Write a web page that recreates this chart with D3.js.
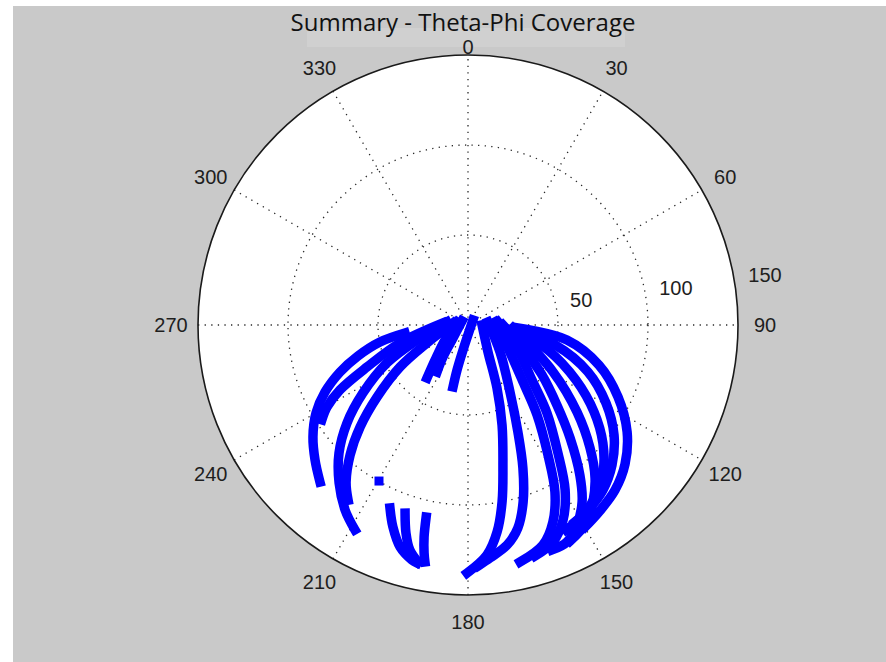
<!DOCTYPE html>
<meta charset="utf-8">
<style>

body {
  margin: 0;
  background-color: #fff;
}

svg {
  display: block;
}

.grid {
  fill: none;
  stroke: #2a2a2a;
  stroke-width: 1.3;
  stroke-dasharray: 1.3,5.3;
}

.rim {
  fill: #fff;
  stroke: #1a1a1a;
  stroke-width: 1.6;
}

.track {
  fill: none;
  stroke: #0000ff;
  stroke-width: 9.5;
  stroke-linejoin: round;
  stroke-linecap: square;
}

.label {
  font-family: "Liberation Sans", Arial, sans-serif;
  font-size: 20px;
  fill: #1e1e1e;
}

.title {
  font-family: "Open Sans", sans-serif;
  font-size: 24px;
  fill: #111;
}

</style>
<body>
<svg width="886" height="662"></svg>
<script src="https://cdnjs.cloudflare.com/ajax/libs/d3/7.8.5/d3.min.js"></script>
<script>

// angle ticks (phi, degrees clockwise from top) and radius ticks (theta)
var angleTicks = [0, 30, 60, 90, 120, 150, 180, 210, 240, 270, 300, 330];
var radiusTicks = [50, 100, 150];

// each track: [phi, theta] pairs
var trackA = [[90, 7.8], [143.5, 18.7], [155.3, 38.5], [161.2, 58.7], [166, 80.2], [169.1, 100.1], [172, 116.1], [175.3, 128.2], [180.2, 137.8]];
var trackB = [[81.5, 11.2], [130.2, 23.3], [147.9, 43.9], [155, 65.6], [159, 85.1], [162.7, 103], [166.2, 116.1], [169.9, 124.1], [174.6, 130], [177.6, 134]];
var trackC = [[83.7, 15.1], [119.9, 25.6], [136, 44], [142.5, 63], [148.4, 84.8], [152.5, 104.6], [156.7, 119.2], [161.2, 129.1], [167.6, 134.8]];
var trackC2 = [[84.3, 16.8], [113.6, 29.1], [130.7, 46.9], [138.1, 65.7], [144.9, 86.9], [149.5, 106.3], [154, 120.5], [158.6, 129.5], [163.8, 133.6]];
var trackD = [[90, 19.4], [112.7, 33.1], [124, 49.6], [132, 66.5], [137.9, 84.6], [143.3, 104], [147.2, 117], [151.4, 126.5], [155.5, 132.5], [159.5, 133.4]];
var trackE = [[93.8, 25], [118.9, 54], [128.6, 77.5], [135.2, 96.2], [140.3, 110.5], [144.8, 120.4], [148.9, 127.9], [154.7, 132.7]];
var trackF1 = [[93.4, 27.8], [98.6, 55.6], [107, 76.1], [115.6, 92.4], [123.9, 106.5], [131.5, 116.5], [138.3, 122.8], [145, 126.8], [149.9, 129.7]];
var trackF2 = [[96, 26.3], [102.9, 49.6], [111.4, 71.6], [119.5, 88.1], [127, 101.6], [134.2, 111.6], [140.7, 118.4], [147, 122.5], [151.5, 124.5]];
var trackF3 = [[95, 25.6], [107.4, 46.6], [117, 67.3], [124.6, 85.1], [131.2, 99.6], [137.4, 110.9], [143, 118.2], [148.8, 123.4], [154.4, 126.2]];

var trackL1 = [[262.8, 35.3], [259.1, 49.8], [254.3, 63.5], [249.8, 75.8], [244.9, 87.7], [239.9, 97.6], [234.2, 106.2], [228.6, 113.3], [223.3, 119.9]];
var trackL2 = [[274.6, 13.9], [255.2, 39.1], [247.4, 60.8], [243.1, 79.8], [239.8, 90.6], [237, 96.8]];
var trackL3 = [[278.1, 11.8], [253.6, 29.5], [244.9, 49.7], [237.1, 69.5], [231, 86.5], [225.2, 101], [219.2, 113.3], [213.6, 123.4], [208.9, 130]];
var trackL4 = [[277.6, 8.4], [246.3, 24.9], [238.3, 44.4], [231.6, 64.5], [226.6, 82.5], [222.2, 97.5], [217.8, 110.5], [214.4, 117.9]];
var trackS1 = [[285.3, 6.3], [236.9, 15.3], [223.3, 26.7], [217.7, 37.2]];
var trackS2 = [[45, 3.9], [191.3, 14.2], [193.7, 25.7], [193.6, 35.4]];
var trackS3 = [[303.7, 4], [226.8, 12.2], [218, 22.6], [213.4, 31.3]];
var trackH1 = [[203.1, 110.5], [200.4, 119.7], [197, 129], [193.4, 134.2], [192.1, 135.2]];
var trackH2 = [[198.5, 110.2], [196.6, 120.6], [194.5, 129.1], [191.9, 134.6]];
var trackH3 = [[192.3, 109.2], [191.7, 120.3], [190.9, 129], [190.3, 133.8]];
var strayPoints = [[209.7, 99.8]];

var tracks = [trackA, trackB, trackC, trackC2, trackD, trackE, trackF1, trackF2, trackF3,
              trackL1, trackL2, trackL3, trackL4, trackS1, trackS2, trackS3,
              trackH1, trackH2, trackH3];

var svg = d3.select("svg"),
    cx = 468, cy = 325, R = 270;

var r = d3.scaleLinear().domain([0, 150]).range([0, R]);
var rad = function(a) { return a * Math.PI / 180; };

// figure background
svg.append("rect")
    .attr("x", 13).attr("y", 6)
    .attr("width", 886 - 13).attr("height", 662 - 6)
    .attr("fill", "#c9c9c9");

svg.append("rect")
    .attr("x", 307).attr("y", 28)
    .attr("width", 318).attr("height", 19)
    .attr("fill", "#d0d0d0");

svg.append("text")
    .attr("class", "title")
    .attr("x", 463).attr("y", 31)
    .attr("text-anchor", "middle")
    .text("Summary - Theta-Phi Coverage");

var g = svg.append("g").attr("transform", "translate(" + cx + "," + cy + ")");

g.append("circle").attr("class", "rim").attr("r", R).style("stroke", "none");

// spokes
g.selectAll(".spoke")
    .data(angleTicks.filter(function(a) { return a < 180; }))
  .enter().append("line")
    .attr("class", "grid")
    .attr("x1", function(a) { return -R * Math.sin(rad(a)); })
    .attr("y1", function(a) { return R * Math.cos(rad(a)); })
    .attr("x2", function(a) { return R * Math.sin(rad(a)); })
    .attr("y2", function(a) { return -R * Math.cos(rad(a)); });

// rings
g.selectAll(".ring")
    .data(radiusTicks.slice(0, -1))
  .enter().append("circle")
    .attr("class", "grid")
    .attr("r", function(d) { return r(d); });

g.append("circle").attr("class", "rim").attr("r", R).style("fill", "none");

// tracks
var line = d3.lineRadial()
    .angle(function(d) { return rad(d[0]); })
    .radius(function(d) { return r(d[1]); })
    .curve(d3.curveCatmullRom);

g.selectAll(".track")
    .data(tracks)
  .enter().append("path")
    .attr("class", "track")
    .attr("d", line);

g.selectAll(".stray")
    .data(strayPoints)
  .enter().append("rect")
    .attr("x", function(d) { return r(d[1]) * Math.sin(rad(d[0])) - 4.5; })
    .attr("y", function(d) { return -r(d[1]) * Math.cos(rad(d[0])) - 4.5; })
    .attr("width", 9).attr("height", 9)
    .attr("fill", "#0000ff");

// angle labels
g.selectAll(".alabel")
    .data(angleTicks)
  .enter().append("text")
    .attr("class", "label")
    .attr("text-anchor", "middle")
    .attr("dy", "0.35em")
    .attr("x", function(a) { return (a === 0 ? R * 1.03 : R * 1.1) * Math.sin(rad(a)); })
    .attr("y", function(a) { return -(a === 0 ? R * 1.03 : R * 1.1) * Math.cos(rad(a)); })
    .text(function(a) { return a; });

// radius labels
g.selectAll(".rlabel")
    .data(radiusTicks)
  .enter().append("text")
    .attr("class", "label")
    .attr("x", function(d) { return r(d) * Math.sin(rad(82)) + 13; })
    .attr("y", function(d) { return -r(d) * Math.cos(rad(82)) - 5; })
    .text(function(d) { return d; });

</script>
</body>
